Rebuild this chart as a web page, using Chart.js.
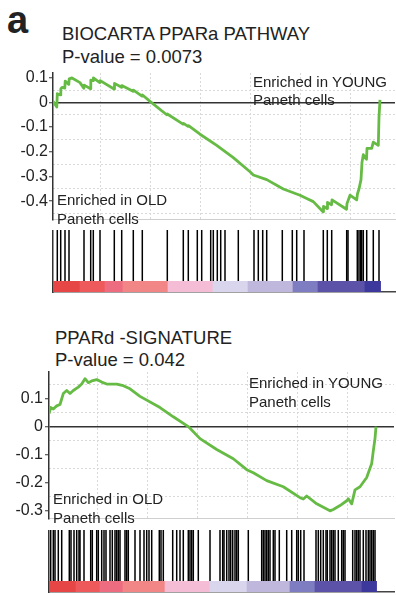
<!DOCTYPE html>
<html><head><meta charset="utf-8">
<script src="https://cdn.jsdelivr.net/npm/chart.js@4.4.1/dist/chart.umd.min.js"></script>
<style>
body{margin:0;background:#fff;width:396px;height:595px;position:relative;overflow:hidden;font-family:"Liberation Sans",Arial,sans-serif;color:#222;}
.t{position:absolute;white-space:nowrap;line-height:1;}
canvas{position:absolute;left:0;}
</style></head><body>
<div class="t" style="left:7px;top:1px;font-size:38px;font-weight:bold">a</div>
<div class="t" style="left:62px;top:25px;font-size:18.5px">BIOCARTA PPARa PATHWAY</div>
<div class="t" style="left:62px;top:48px;font-size:18.5px">P-value = 0.0073</div>
<div class="t" style="left:55px;top:329px;font-size:18.5px">PPARd -SIGNATURE</div>
<div class="t" style="left:55px;top:351px;font-size:18.5px">P-value = 0.042</div>

<canvas id="es1" width="396" height="170" style="top:60px"></canvas>
<canvas id="hit1" width="396" height="51" style="top:230px"></canvas>
<canvas id="bar1" width="396" height="13" style="top:281px"></canvas>
<canvas id="es2" width="396" height="170" style="top:360px"></canvas>
<canvas id="hit2" width="396" height="51" style="top:530px"></canvas>
<canvas id="bar2" width="396" height="13" style="top:581px"></canvas>

<div class="t" style="left:253px;top:73.6px;font-size:15px">Enriched in YOUNG</div>
<div class="t" style="left:253px;top:91.6px;font-size:15px">Paneth cells</div>
<div class="t" style="left:57px;top:192px;font-size:15px">Enriched in OLD</div>
<div class="t" style="left:57px;top:210.6px;font-size:15px">Paneth cells</div>
<div class="t" style="left:249px;top:375.3px;font-size:15px">Enriched in YOUNG</div>
<div class="t" style="left:249px;top:393.7px;font-size:15px">Paneth cells</div>
<div class="t" style="left:53px;top:490.6px;font-size:15px">Enriched in OLD</div>
<div class="t" style="left:53px;top:509.6px;font-size:15px">Paneth cells</div>

<script>
// ---------- Panel 1: BIOCARTA PPARa PATHWAY ----------
const p1RankX = [0,3.8,4.3,7.5,7.8,9,11.8,12.2,15.8,16.2,19,27,30.8,31.2,37.5,37.8,40,40.4,46.8,47.2,61,61.5,68.5,68.8,80,80.4,89,89.5,97,
  113.7,114.3,130,130.5,135,135.5,147,163.7,180.3,197,200.3,213.7,230.3,247,253.7,260.3,270,270.5,274,274.5,278.5,279,293.5,294,297,303.7,304.5,306,308,309,310.3,312,313.5,314,318.7,320.3,325.3,326,327];
const p1ES = [0.005,-0.019,0.035,0.03,0.055,0.061,0.058,0.086,0.073,0.095,0.099,0.08,0.057,0.07,0.055,0.09,0.088,0.099,0.08,0.088,0.054,0.077,0.061,0.068,0.045,0.05,0.025,0.03,0.004,
  -0.05,-0.047,-0.088,-0.085,-0.097,-0.094,-0.129,-0.174,-0.224,-0.281,-0.294,-0.313,-0.351,-0.376,-0.389,-0.402,-0.443,-0.421,-0.43,-0.405,-0.415,-0.395,-0.433,-0.41,-0.376,-0.395,-0.37,-0.351,-0.313,-0.243,-0.212,-0.224,-0.23,-0.186,-0.186,-0.161,-0.174,-0.06,0.01];
const p1Hits = [4.3,7.7,12,16,31,37.7,40.3,47,61.3,68.7,80.3,89.3,114.3,130.3,135.3,144.3,148.7,157.7,160.3,164.3,167.7,172,185.3,201,205.3,209.7,213.7,229.3,239.3,243.7,251,270.3,274.3,278.7,293.7,295,304.3,306,307.7,308.7,310.3,313.7,320.3,326];
const p1BarEdges = [0,27,52,70,115,160,195,240,265,312,327];
const p1YTicks = [0.1,0,-0.1,-0.2,-0.3,-0.4];
const p1YGrid = [0.05,-0.05,-0.15,-0.25,-0.35,-0.45];
const p1XGrid = [47,97,147,197,247,297];

// ---------- Panel 2: PPARd -SIGNATURE ----------
const p2RankX = [0,1.7,4.3,7.7,11,14.3,17.7,21,24.3,29.3,32.7,36,39.3,42.7,47.7,52.7,57.7,67.7,74.3,81,91,111,124.3,139.3,151,167.7,184.3,197.7,204.3,217.7,234.3,251,254.3,257.7,267.7,281,284.3,291,297.7,299.3,302.7,306,311,317.7,322.7,324.3,326,327];
const p2ES = [0.046,0.068,0.063,0.074,0.079,0.118,0.129,0.118,0.129,0.141,0.152,0.171,0.157,0.163,0.168,0.159,0.152,0.152,0.146,0.135,0.108,0.068,0.035,0,-0.043,-0.082,-0.115,-0.154,-0.165,-0.193,-0.215,-0.254,-0.259,-0.248,-0.276,-0.301,-0.296,-0.282,-0.265,-0.258,-0.276,-0.226,-0.215,-0.182,-0.132,-0.087,-0.043,0];
const p2Hits = [1.7,4.3,6,9.3,12.7,20.3,22,25,27.7,30,31,35,41.7,43.3,47.7,49.3,52.7,55,57,61,63.3,66,67.7,69.3,71,76,77.7,79.3,86,91,95,97.7,100,102.7,110.3,112,114.3,123.7,127.7,131,134.3,139.3,141,142.7,144.3,149.3,161,171,173.7,175,177.7,180,181.7,183.7,186,187.7,189.3,199.3,212.7,214.3,216,217.7,219.3,221,224.3,226,230.3,237.7,242.7,247.7,249.3,251.7,255,267,269.3,271.7,274.3,277,278.3,281,282.7,284.3,286,289.3,292.7,294.3,296,303.7,306,307.7,309.3,311,314.3,317,319.3,321,322.7,324.3,326];
const p2BarEdges = [0,27,51,74,116,161,198,241,266,313,327];
const p2YTicks = [0.1,0,-0.1,-0.2,-0.3];
const p2YGrid = [0.15,0.05,-0.05,-0.15,-0.25];
const p2XGrid = [48,98,148,198,248,298];

// ---------- styles ----------
const GREEN = '#66bb44';
const INK = '#222';
const GRIDC = '#d9d9d9';
const BAR_COLORS = ['#e64646','#ee5a5c','#ee6c80','#f28686','#f5bcd6','#d9d5ec','#bfb7dc','#7e7dc1','#5c53a9','#3c389c'];
const FONT = '"Liberation Sans", Arial, sans-serif';

function esChart(id, xs, ys, o) {
  new Chart(document.getElementById(id), {
    type: 'scatter',
    data: { datasets: [{ data: xs.map((x, i) => ({ x, y: ys[i] })), showLine: true, borderColor: GREEN, borderWidth: 2.8, pointRadius: 0, tension: 0, borderJoinStyle: 'round' }] },
    options: {
      responsive: false, animation: false, events: [],
      layout: { autoPadding: false, padding: { top: o.padTop, right: o.padRight, bottom: 1, left: 0 } },
      plugins: { legend: { display: false }, tooltip: { enabled: false } },
      scales: {
        x: {
          type: 'linear', min: 0, max: o.xMax,
          afterBuildTicks: s => { s.ticks = o.xGrid.map(v => ({ value: v })); },
          ticks: { display: false },
          grid: { color: GRIDC, drawTicks: false, lineWidth: 1 },
          border: { display: true, color: '#cfcfcf', dash: [2, 2], width: 1 },
          afterFit: s => { s.height = 0; }
        },
        y: {
          type: 'linear', min: o.yMin, max: o.yMax, position: 'left',
          afterBuildTicks: s => { s.ticks = o.yTicks.map(v => ({ value: v })); },
          ticks: { font: { size: 16, family: FONT }, color: INK, padding: o.tickPad, callback: v => String(v) },
          grid: { color: c => (c.tick && c.tick.value === 0) ? '#333' : 'rgba(0,0,0,0)', lineWidth: 1.5, tickColor: '#333', tickLength: 4, tickWidth: 1 },
          border: { display: true, color: '#333', width: 1.5 },
          afterFit: s => { s.width = o.axisW; }
        },
        yg: {
          type: 'linear', min: o.yMin, max: o.yMax, position: 'left',
          afterBuildTicks: s => { s.ticks = o.yGrid.map(v => ({ value: v })); },
          ticks: { display: false },
          grid: { color: GRIDC, drawTicks: false, lineWidth: 1 },
          border: { display: false, dash: [2, 2] },
          afterFit: s => { s.width = 0; }
        }
      }
    }
  });
}

function hitChart(id, hits, o) {
  new Chart(document.getElementById(id), {
    type: 'scatter',
    data: { datasets: [{ data: hits.map(x => ({ x, y: 0.5 })), pointStyle: 'line', pointRotation: 90, pointRadius: 26, borderColor: '#000', borderWidth: 1.5, backgroundColor: '#000' }] },
    options: {
      responsive: false, animation: false, events: [],
      layout: { autoPadding: false, padding: { top: 0, right: o.padRight, bottom: 0, left: 0 } },
      plugins: { legend: { display: false }, tooltip: { enabled: false } },
      scales: {
        x: { type: 'linear', min: 0, max: o.xMax, display: false },
        y: {
          type: 'linear', min: 0, max: 1, position: 'left',
          ticks: { display: false }, grid: { display: false },
          border: { display: true, color: '#333', width: 1.5 },
          afterFit: s => { s.width = o.axisW; }
        }
      }
    }
  });
}

function barChart(id, edges, o) {
  const segs = [];
  for (let i = 0; i < edges.length - 1; i++) segs.push({ x: [edges[i], edges[i + 1] + 0.6], y: 0 });
  new Chart(document.getElementById(id), {
    type: 'bar',
    data: { datasets: [{ data: segs, backgroundColor: BAR_COLORS, borderWidth: 0, barThickness: 11 }] },
    options: {
      indexAxis: 'y',
      responsive: false, animation: false, events: [],
      layout: { autoPadding: false, padding: { top: 0, right: o.padRight, bottom: 2, left: 0 } },
      plugins: { legend: { display: false }, tooltip: { enabled: false } },
      scales: {
        x: {
          type: 'linear', min: 0, max: o.xMax,
          ticks: { display: false }, grid: { display: false },
          border: { display: true, color: '#444', width: 1.5 },
          afterFit: s => { s.height = 0; }
        },
        y: {
          type: 'linear', min: -0.5, max: 0.5, position: 'left',
          ticks: { display: false }, grid: { display: false },
          border: { display: true, color: '#333', width: 1.5 },
          afterFit: s => { s.width = o.axisW; }
        }
      }
    }
  });
}

const P1 = { axisW: 53, padTop: 13, padRight: 1, xMax: 342, yMin: -0.474, yMax: 0.119, yTicks: p1YTicks, yGrid: p1YGrid, xGrid: p1XGrid, tickPad: 1 };
const P2 = { axisW: 49, padTop: 12, padRight: 2, xMax: 345, yMin: -0.328, yMax: 0.195, yTicks: p2YTicks, yGrid: p2YGrid, xGrid: p2XGrid, tickPad: 2 };

esChart('es1', p1RankX, p1ES, P1);
hitChart('hit1', p1Hits, P1);
barChart('bar1', p1BarEdges, P1);
esChart('es2', p2RankX, p2ES, P2);
hitChart('hit2', p2Hits, P2);
barChart('bar2', p2BarEdges, P2);
</script>
</body></html>
